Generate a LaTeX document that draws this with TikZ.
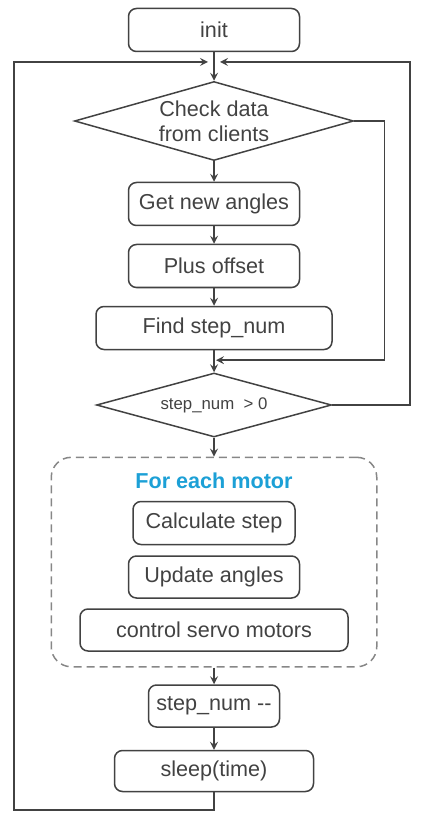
\documentclass[tikz,border=0pt]{standalone}
\usepackage{fontspec}
\setmainfont{Liberation Sans}
\usetikzlibrary{shapes.geometric,positioning,fit}
\definecolor{linegray}{RGB}{66,66,66}
\definecolor{dashgray}{RGB}{135,135,135}
\definecolor{motorblue}{RGB}{28,160,214}

\begin{document}
\begin{tikzpicture}[%
>=stealth,
x=0.5pt, y=-0.5pt,
on grid,
font=\fontsize{10.8}{12.5}\selectfont,
text=black!80,
line width=0.75pt,
every path/.style={color=linegray},
block/.style={rectangle, draw=linegray, rounded corners=4pt, minimum width=85.5pt, minimum height=21.5pt, inner sep=0pt},
decision/.style={diamond, draw=linegray, aspect=3.5, inner sep=-1pt, align=center},
group/.style={draw=dashgray, dashed, dash pattern=on 4pt off 2.5pt, rounded corners=10pt, inner xsep=14pt, inner ysep=7.5pt}
]

\useasboundingbox (0,0) rectangle (427,828);

\node[block] (init) at (214,30) {init};
\node[decision, minimum width=139.5pt, minimum height=39.5pt] (check) [below=45.5pt of init] {Check data\\from clients};
\node[block] (get) [below=41.5pt of check] {Get new angles};
\node[block] (offset) [below=31pt of get] {Plus offset};
\node[block, minimum width=118pt] (find) [below=31pt of offset] {Find step\_num};
\node[decision, minimum width=117.5pt, minimum height=32pt, font=\fontsize{8.4}{10}\selectfont] (positive) [below=38.5pt of find] {step\_num \ > 0};
\node[inner sep=0pt, text=motorblue, font=\fontsize{10.8}{12.5}\selectfont\bfseries] (title) [below=38pt of positive] {For each motor};
\node[block, minimum width=81pt] (calc) [below=21pt of title] {Calculate step};
\node[block, minimum height=21pt] (update) [below=27pt of calc] {Update angles};
\node[block, minimum width=134pt, minimum height=21pt] (servo) [below=26.5pt of update] {control servo motors};
\node[group, fit=(title)(calc)(servo)] (motors) {};
\node[block, minimum width=65.5pt, minimum height=21pt] (dec) [below=38pt of servo] {step\_num {-}{-}};
\node[block, minimum width=99.5pt, minimum height=20.5pt] (sleep) [below=32.5pt of dec] {sleep(time)};

% loop points
\coordinate (join) at (214,62);
\coordinate (loopL) at (14,810);
\coordinate (loopR) at (410,62);
\path (find.south) -- coordinate[pos=.45] (merge) (positive.north);

\path[->] (init) edge (check);
\path[->] (check) edge (get);
\path[->] (get) edge (offset);
\path[->] (offset) edge (find);
\path[->] (find) edge (positive);
\path[->] (positive) edge (motors);
\path[->] (motors) edge (dec);
\path[->] (dec) edge (sleep);

\draw[->, shorten >=1pt] (check.east) -- ++(30,0) |- (merge);
\draw[->, shorten >=3pt] (positive.east) -| (loopR) -- (join);
\draw[->, shorten >=3pt] (sleep.south) |- (loopL) |- (join);

\end{tikzpicture}
\end{document}
